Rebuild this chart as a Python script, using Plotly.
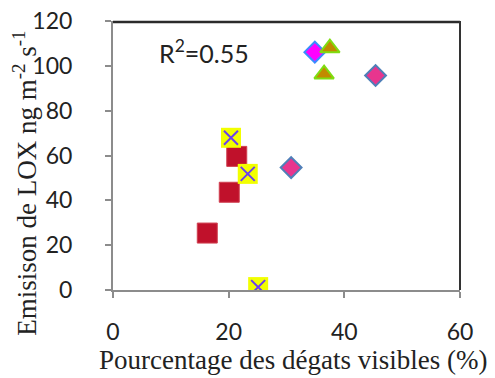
import plotly.graph_objects as go

# Data
red_x = [16.3, 20.1, 21.4]
red_y = [25.4, 43.6, 59.6]

yel_x = [20.4, 23.3, 25.1]
yel_y = [67.9, 51.8, 1.3]

mag_x = [34.9]
mag_y = [106.1]

pink_x = [30.8, 45.4]
pink_y = [54.6, 95.7]

tri_x = [37.5, 36.5]
tri_y = [107.9, 96.3]

x_ticks = [0, 20, 40, 60]
y_ticks = [0, 20, 40, 60, 80, 100, 120]

fig = go.Figure()
fig.add_trace(go.Scatter(x=red_x, y=red_y, mode="markers",
                         marker=dict(symbol="square", size=20, color="#c0112b",
                                     line=dict(color="#d04050", width=1))))
fig.add_trace(go.Scatter(x=yel_x, y=yel_y, mode="markers",
                         marker=dict(symbol="square", size=20, color="#f2ff00",
                                     line=dict(width=0))))
fig.add_trace(go.Scatter(x=yel_x, y=yel_y, mode="markers",
                         marker=dict(symbol="x-thin", size=14,
                                     line=dict(color="#6a3ff0", width=2))))
fig.add_trace(go.Scatter(x=pink_x, y=pink_y, mode="markers",
                         marker=dict(symbol="diamond", size=16, color="#e8358e",
                                     line=dict(color="#4f7fb8", width=2))))
fig.add_trace(go.Scatter(x=mag_x, y=mag_y, mode="markers",
                         marker=dict(symbol="diamond", size=16, color="#ff00ff",
                                     line=dict(color="#3a8cff", width=2))))
fig.add_trace(go.Scatter(x=tri_x, y=tri_y, mode="markers",
                         marker=dict(symbol="triangle-up", size=17, color="#c28a00",
                                     line=dict(color="#7fdd10", width=2))))

axis_font = dict(family="Lato, Open Sans, sans-serif", size=23, color="#222222")

fig.update_layout(
    width=487, height=370,
    margin=dict(l=105, r=35, t=13, b=88),
    paper_bgcolor="white", plot_bgcolor="white",
    showlegend=False,
    xaxis=dict(range=[0, 60], tickvals=x_ticks, showgrid=False, zeroline=False,
               showline=True, linecolor="#8c8c8c", linewidth=2, automargin=False,
               ticks="outside", ticklen=6, tickcolor="#8c8c8c", tickwidth=2,
               tickfont=axis_font, ticklabelstandoff=14, ticklabeloverflow="allow"),
    yaxis=dict(range=[0, 120], tickvals=y_ticks, showgrid=False, zeroline=False,
               showline=True, linecolor="#8c8c8c", linewidth=2, automargin=False,
               ticks="outside", ticklen=6, tickcolor="#8c8c8c", tickwidth=2,
               tickfont=axis_font, ticklabelstandoff=28, ticklabeloverflow="allow"),
    shapes=[
        dict(type="line", xref="paper", yref="paper", x0=0, x1=1, y0=0.996, y1=0.996,
             line=dict(color="#2b2b2b", width=2.5), layer="above"),
        dict(type="line", xref="paper", yref="paper", x0=1, x1=1, y0=0, y1=1,
             line=dict(color="#333333", width=2), layer="above"),
    ],
    annotations=[
        dict(text="R<sup>2</sup>=0.55", xref="paper", yref="paper",
             x=0.128, y=0.885, xanchor="left", yanchor="middle", showarrow=False,
             font=dict(family="Lato, Open Sans, sans-serif", size=25, color="#222222")),
        dict(text="Pourcentage des dégats visibles (%)", xref="paper", yref="paper",
             x=0.519, y=-0.26, xanchor="center", yanchor="middle", showarrow=False,
             font=dict(family="Liberation Serif, Times New Roman, serif", size=27, color="#222222")),
        dict(text="Emisison de LOX ng m<sup>-2</sup> s<sup>-1</sup>", xref="paper", yref="paper",
             x=-0.254, y=0.398, xanchor="center", yanchor="middle", showarrow=False, textangle=-90,
             font=dict(family="Liberation Serif, Times New Roman, serif", size=27, color="#222222")),
    ],
)

fig.write_html("out.html")
